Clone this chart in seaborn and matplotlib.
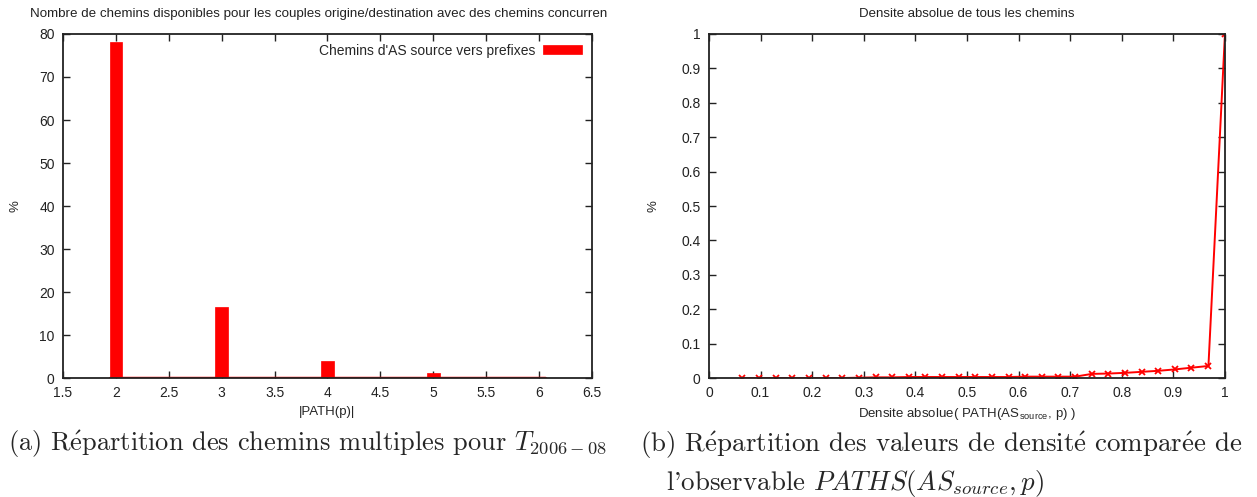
import matplotlib
matplotlib.use("Agg")
import matplotlib.pyplot as plt
import numpy as np
import pandas as pd
import seaborn as sns
from matplotlib.ticker import MultipleLocator, FuncFormatter

# (a) multiple paths per origin/destination couple
path_counts = [2, 3, 4, 5, 6]
path_pct = [78.2, 16.4, 4.0, 1.1, 0.3]

# (b) absolute density of all paths
density_x = [0.065, 0.097, 0.129, 0.161, 0.194, 0.226, 0.258, 0.290, 0.323, 0.355,
             0.387, 0.419, 0.452, 0.484, 0.516, 0.548, 0.581, 0.613, 0.645, 0.677,
             0.710, 0.742, 0.774, 0.806, 0.839, 0.871, 0.903, 0.935, 0.968, 1.0]
density_y = [0.0, 0.0, 0.0, 0.0, 0.0, 0.0, 0.0, 0.001, 0.002, 0.002,
             0.003, 0.003, 0.003, 0.003, 0.003, 0.003, 0.003, 0.004, 0.004, 0.004,
             0.004, 0.012, 0.013, 0.015, 0.018, 0.021, 0.025, 0.030, 0.035, 1.0]

sns.set_style("ticks")
plt.rcParams['font.family'] = ['Liberation Sans', 'DejaVu Sans']
plt.rcParams['mathtext.fontset'] = 'cm'
RED = '#ff0000'

fig = plt.figure(figsize=(12.57, 4.97), dpi=100)
ax1 = fig.add_axes([0.0501, 0.2394, 0.4208, 0.6922])
ax2 = fig.add_axes([0.564, 0.2394, 0.4105, 0.6922])

def gnuplot_look(ax):
    for s in ax.spines.values():
        s.set_linewidth(1.3)
        s.set_color('#222222')
    ax.tick_params(direction='in', length=5, width=1, top=True, right=True,
                   labelsize=10, colors='#222222', pad=6)
    ax.xaxis.set_major_formatter(FuncFormatter(lambda v, p: '%g' % round(v, 3)))
    ax.yaxis.set_major_formatter(FuncFormatter(lambda v, p: '%g' % round(v, 3)))

# left chart
df1 = pd.DataFrame({'n': path_counts, 'pct': path_pct})
sns.barplot(data=df1, x='n', y='pct', native_scale=True, width=0.12,
            color=RED, saturation=1, edgecolor=RED, linewidth=0.5, ax=ax1,
            label="Chemins d'AS source vers prefixes")
w = 0.12
ax1.plot([min(path_counts) - w / 2, max(path_counts) + w / 2], [0, 0], color=RED, lw=2.5)
ax1.set_xlim(1.5, 6.5)
ax1.set_ylim(0, 80)
ax1.xaxis.set_major_locator(MultipleLocator(0.5))
ax1.yaxis.set_major_locator(MultipleLocator(10))
gnuplot_look(ax1)
ax1.set_xlabel('|PATH(p)|', fontsize=9.5)
ax1.set_ylabel('%', fontsize=9.5, labelpad=12.5)
leg = ax1.legend(loc='upper right', frameon=False, markerfirst=False, fontsize=10,
                 handlelength=2.8, handleheight=0.6, borderaxespad=0.3, handletextpad=0.6)
fig.text(0.024, 0.972, 'Nombre de chemins disponibles pour les couples origine/destination avec des chemins concurren',
         fontsize=9.6, ha='left', va='center', color='#222222')

# right chart
df2 = pd.DataFrame({'d': density_x, 'v': density_y})
sns.lineplot(data=df2, x='d', y='v', color=RED, lw=1.4, marker='x', markersize=4.5,
             markeredgewidth=1.3, markeredgecolor=RED, ax=ax2)
ax2.set_xlim(0, 1)
ax2.set_ylim(0, 1)
ax2.xaxis.set_major_locator(MultipleLocator(0.1))
ax2.yaxis.set_major_locator(MultipleLocator(0.1))
gnuplot_look(ax2)
ax2.set_xlabel(r'Densite absolue( PATH(AS$_\mathregular{source}$, p) )', fontsize=9.5)
ax2.set_ylabel('%', fontsize=9.5, labelpad=15.5)
ax2.set_title('Densite absolue de tous les chemins', fontsize=9.5, color='#222222', pad=12)

# captions (Computer Modern look, accents through mathtext)
cap = ['cmr10', 'DejaVu Serif']
e_acute = r'$\acute{\mathrm{e}}$'
fig.text(0.006, 0.105, r'(a) R' + e_acute + r'partition des chemins multiples pour $T_{2006-08}$',
         fontsize=19, family=cap, ha='left', va='center')
fig.text(0.509, 0.105, r'(b) R' + e_acute + r'partition des valeurs de densit' + e_acute
         + r' compar' + e_acute + r'e de',
         fontsize=19.4, family=cap, ha='left', va='center')
fig.text(0.530, 0.028, r"l'observable $PATHS(AS_{source},p)$",
         fontsize=19.4, family=cap, ha='left', va='center')

fig.savefig('out.png', dpi=100)
